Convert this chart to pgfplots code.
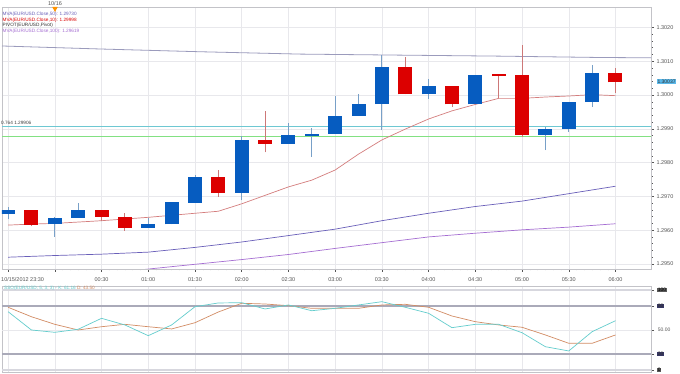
\documentclass[border=0pt]{standalone}
\usepackage{fontspec}
\setmainfont{Liberation Sans}
\usepackage{pgfplots}
\pgfplotsset{compat=1.18}
\usepackage{pgfplotstable}

\definecolor{cblue}{RGB}{6,92,192}
\definecolor{cred}{RGB}{220,0,0}
\definecolor{wblue}{RGB}{120,160,200}
\definecolor{wred}{RGB}{205,120,120}
\definecolor{mvaten}{RGB}{212,125,125}
\definecolor{mvafifty}{RGB}{105,95,185}
\definecolor{mvahund}{RGB}{165,110,210}
\definecolor{pivot}{RGB}{155,155,188}
\definecolor{fibc}{RGB}{110,200,210}
\definecolor{fibg}{RGB}{130,225,130}
\definecolor{gridc}{RGB}{232,232,236}
\definecolor{framec}{RGB}{195,195,200}
\definecolor{stk}{RGB}{100,205,205}
\definecolor{std}{RGB}{210,140,100}
\definecolor{txt}{RGB}{85,85,85}
\definecolor{lvl}{RGB}{170,170,185}
\definecolor{lvllight}{RGB}{215,215,222}
\definecolor{pricebox}{RGB}{90,185,235}
\definecolor{navybox}{RGB}{55,55,100}

% up (blue) candles: index, open, high, low, close
\pgfplotstableread{
t o h l c
0 1.29647 1.29668 1.29632 1.29659
2 1.29617 1.29640 1.29581 1.29637
3 1.29637 1.29680 1.29637 1.29659
6 1.29607 1.29636 1.29607 1.29618
7 1.29617 1.29682 1.29617 1.29682
8 1.29681 1.29763 1.29681 1.29756
10 1.29711 1.29880 1.29689 1.29867
12 1.29855 1.29918 1.29855 1.29882
13 1.29880 1.29901 1.29817 1.29885
14 1.29885 1.29997 1.29885 1.29938
15 1.29938 1.30002 1.29938 1.29973
16 1.29973 1.30119 1.29896 1.30083
18 1.30002 1.30048 1.29989 1.30027
20 1.29972 1.30059 1.29972 1.30059
23 1.29883 1.29906 1.29837 1.29899
24 1.29899 1.29980 1.29891 1.29980
25 1.29979 1.30089 1.29965 1.30066
}\upc
% down (red) candles
\pgfplotstableread{
t o h l c
1 1.29659 1.29659 1.29612 1.29616
4 1.29659 1.29659 1.29627 1.29639
5 1.29639 1.29650 1.29598 1.29607
9 1.29756 1.29778 1.29699 1.29711
11 1.29867 1.29952 1.29830 1.29855
17 1.30083 1.30113 1.30002 1.30002
19 1.30027 1.30027 1.29965 1.29972
21 1.30061 1.30061 1.29990 1.30056
22 1.30058 1.30149 1.29875 1.29883
26 1.30066 1.30081 1.30005 1.30037
}\dnc
% slow stochastic
\pgfplotstableread{
t k d
0 72.9 78.4
1 50.0 66.6
2 47.1 57.1
3 50.9 50.0
4 64.6 54.1
5 56.3 57.1
6 42.9 54.1
7 56.3 51.3
8 79.1 59.1
9 83.8 72.5
10 84.1 83.4
11 76.3 82.5
12 81.3 80.4
13 74.1 77.1
14 77.1 77.1
15 81.3 77.1
16 85.4 81.3
17 78.4 82.1
18 70.9 78.4
19 52.9 67.5
20 57.1 60.4
21 57.1 56.3
22 46.6 53.4
23 29.1 43.8
24 23.8 33.4
25 47.9 33.4
26 61.6 43.8
}\stoch

\pgfplotsset{
  candle/.style 2 args={only marks, mark=*, mark size=0.1pt,
    mark options={draw opacity=0, fill opacity=0},
    error bars/.cd, y dir=plus, y explicit, error mark=none,
    error bar style={line width=#1, color=#2}},
}

\begin{document}
\begin{tikzpicture}[x=1pt,y=1pt]
\fill[white] (0,0) rectangle (680,374);
\path[use as bounding box] (0,0) rectangle (680,374);

\begin{axis}[name=main, at={(2pt,105pt)}, anchor=south west,
  scale only axis, width=649pt, height=262pt,
  xmin=-0.26, xmax=27.52, ymin=1.294851, ymax=1.302604,
  axis line style={framec},
  xtick={0,2,...,26},
  xticklabels={,,00:30,01:00,01:30,02:00,02:30,03:00,03:30,04:00,04:30,05:00,05:30,06:00},
  minor x tick num=5,
  ytick={1.295,1.296,1.297,1.298,1.299,1.300,1.301,1.302},
  yticklabels={1.2950,1.2960,1.2970,1.2980,1.2990,1.3000,1.3010,1.3020},
  minor y tick num=4,
  xtick pos=left, ytick pos=right, tick align=outside,
  major tick length=3pt, minor tick length=1.5pt,
  tick style={txt, line width=0.4pt},
  xmajorgrids, ymajorgrids,
  major grid style={gridc, line width=0.5pt},
  /pgf/number format/assume math mode=true,
  yticklabel style={font=\fontsize{5.5}{6}\selectfont, text=txt, anchor=west, xshift=-1pt},
  xticklabel style={font=\fontsize{5.5}{6}\selectfont, text=txt, anchor=north, yshift=-2pt},
]
% pivot / long average line
\addplot[pivot, line width=0.8pt] coordinates {(-0.26,1.30145) (4,1.30136) (8.2,1.30128) (12.5,1.30121) (16.7,1.30118) (21,1.30115) (25.3,1.30111) (27.52,1.30110)};
% fibonacci levels
\addplot[fibc, line width=0.8pt] coordinates {(-0.26,1.29907) (27.52,1.29907)};
\addplot[fibg, line width=0.8pt] coordinates {(-0.26,1.29878) (27.52,1.29878)};
% MVA 100
\addplot[mvahund, line width=0.7pt] coordinates {(5,1.29479) (5.45,1.29481) (7,1.29492) (8,1.29499) (10,1.29513) (12,1.29528) (14,1.29546) (16,1.29563) (18,1.29580) (20,1.29591) (22,1.29601) (24,1.29609) (26,1.29619)};
% MVA 50
\addplot[mvafifty, line width=0.7pt] coordinates {(0,1.29520) (2,1.29525) (4,1.29529) (6,1.29535) (8,1.29549) (10,1.29565) (12,1.29584) (14,1.29603) (16,1.29628) (18,1.29650) (20,1.29670) (22,1.29686) (24,1.29708) (26,1.29730)};
% MVA 10
\addplot[mvaten, line width=0.7pt] coordinates {(0,1.29615) (1,1.29618) (2,1.29620) (3,1.29624) (4,1.29628) (5,1.29633) (6,1.29638) (7,1.29644) (8,1.29650) (9,1.29656) (10,1.29678) (11,1.29703) (12,1.29728) (13,1.29748) (14,1.29778) (15,1.29825) (16,1.29867) (17,1.29899) (18,1.29929) (19,1.29953) (20,1.29972) (21,1.29990) (22,1.29990) (23,1.29994) (24,1.29997) (25,1.30001) (26,1.29998)};
% wicks
\addplot[candle={0.9pt}{wblue}]
  table[x=t, y=l, y error expr=\thisrow{h}-\thisrow{l}] {\upc};
\addplot[candle={0.9pt}{wred}]
  table[x=t, y=l, y error expr=\thisrow{h}-\thisrow{l}] {\dnc};
% bodies
\addplot[candle={14pt}{cblue}]
  table[x=t, y=o, y error expr=\thisrow{c}-\thisrow{o}] {\upc};
\addplot[candle={14pt}{cred}]
  table[x=t, y=c, y error expr=\thisrow{o}-\thisrow{c}] {\dnc};
\end{axis}

\begin{axis}[name=stoch, at={(2pt,2pt)}, anchor=south west,
  scale only axis, width=649pt, height=86pt,
  xmin=-0.26, xmax=27.52, ymin=-2.5, ymax=105,
  axis line style={framec},
  xtick={0,2,...,26}, xticklabels={},
  ytick={0,20,50,80,100}, yticklabels={},
  minor y tick num=4,
  xtick pos=left, ytick pos=right, tick align=outside,
  major tick length=3pt, minor tick length=1.5pt,
  tick style={txt, line width=0.4pt},
  x tick style={draw=none},
  xmajorgrids, major grid style={gridc, line width=0.5pt},
]
\addplot[lvllight, line width=1.2pt] coordinates {(-0.26,100) (27.52,100)};
\addplot[lvllight, line width=1.2pt] coordinates {(-0.26,0) (27.52,0)};
\addplot[gridc, line width=0.6pt] coordinates {(-0.26,50) (27.52,50)};
\addplot[lvl, line width=1.2pt] coordinates {(-0.26,80) (27.52,80)};
\addplot[lvl, line width=1.2pt] coordinates {(-0.26,20) (27.52,20)};
\addplot[std, line width=0.7pt] table[x=t, y=d] {\stoch};
\addplot[stk, line width=0.7pt] table[x=t, y=k] {\stoch};
\end{axis}

% texts
\begin{scope}[font=\fontsize{4.7}{5.5}\selectfont]
\node[anchor=west, inner sep=0pt, text=mvafifty] at (2.5,359.3) {MVA(EUR/USD.Close,50): 1.29730};
\node[anchor=west, inner sep=0pt, text=cred] at (2.5,353.3) {MVA(EUR/USD.Close,10): 1.29998};
\node[anchor=west, inner sep=0pt, text=black!80] at (2.5,348.3) {PIVOT(EUR/USD,Pivot)};
\node[anchor=west, inner sep=0pt, text=mvahund] at (2.5,342.7) {MVA(EUR/USD.Close,100): 1.29619};
\node[anchor=west, inner sep=0pt, text=black!75] at (1,250.7) {0.764 1.29906};
\node[anchor=west, inner sep=0pt] at (4,85.5) {\textcolor{stk}{SSO(EUR/USD, 5, 3, 3) - K: 61.16} \textcolor{std}{D: 43.50}};
\end{scope}
\node[anchor=west, inner sep=0pt, text=txt, font=\fontsize{5.5}{6}\selectfont] at (1,94) {10/15/2012 23:30};
\node[inner sep=0pt, text=txt, font=\fontsize{5.5}{6}\selectfont] at (55,370) {10/16};
\fill[orange!85!yellow] (52.3,367) -- (57.7,367) -- (55,362) -- cycle;
\node[fill=pricebox, text=black!80, inner sep=0.8pt, anchor=west, font=\fontsize{5}{6}\selectfont] at (656.5,292.5) {1.30037};
\begin{scope}[font=\fontsize{5}{6}\selectfont]
\node[fill=black!65, text=black, inner sep=0.6pt, anchor=west] at (657,84) {100};
\node[fill=navybox, text=black!80, inner sep=0.6pt, anchor=west] at (657,68) {80};
\node[text=txt, inner sep=0.6pt, anchor=west] at (657,44) {50.00};
\node[fill=navybox, text=black!80, inner sep=0.6pt, anchor=west] at (657,20) {20};
\node[fill=black!65, text=black, inner sep=0.6pt, anchor=west] at (657,4) {0};
\end{scope}
\end{tikzpicture}
\end{document}
